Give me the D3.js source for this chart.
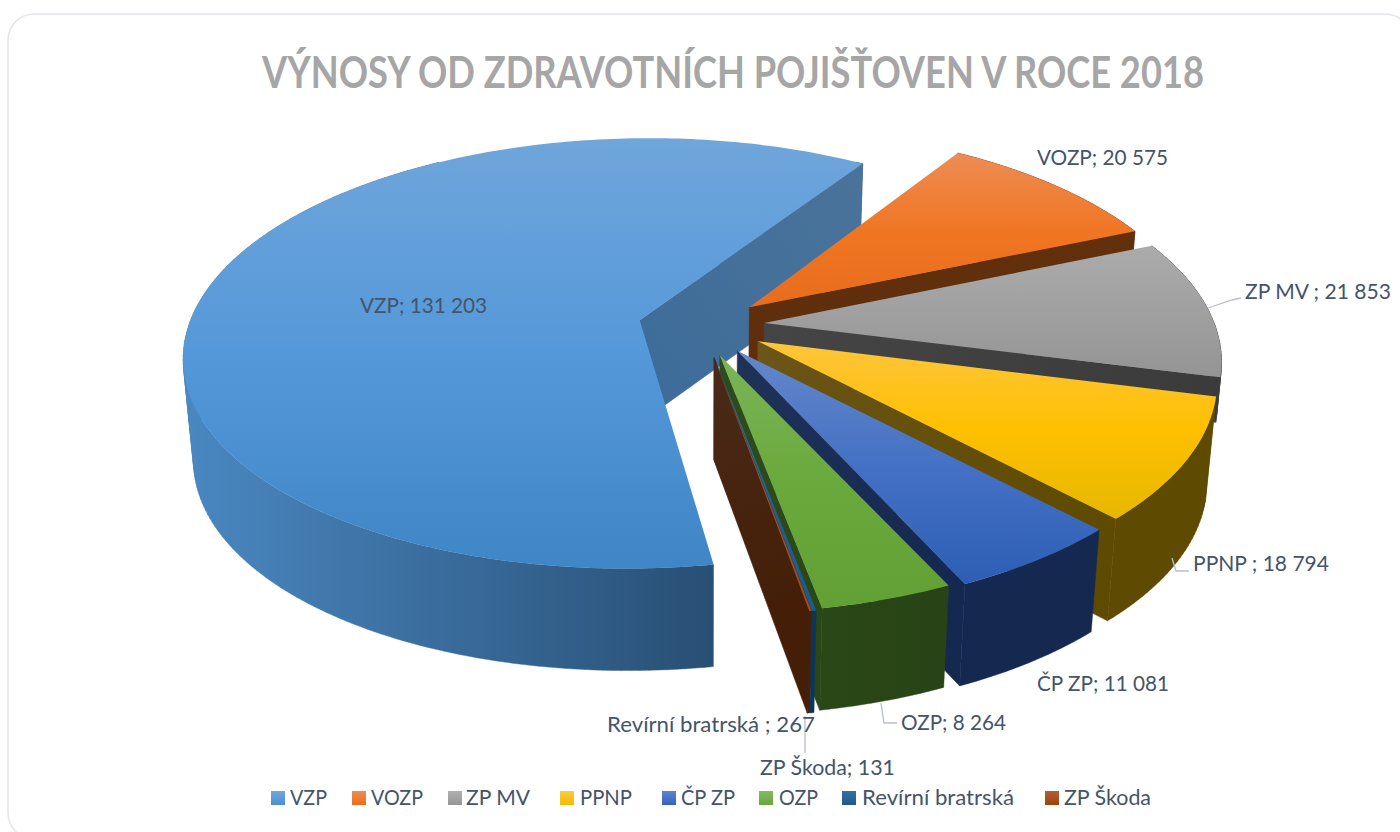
<!DOCTYPE html>
<html><head><meta charset="utf-8">
<script src="https://cdn.jsdelivr.net/npm/d3@7"></script>
<style>html,body{margin:0;padding:0;background:#fff;overflow:hidden}svg{display:block}text{font-family:Lato,"Open Sans",sans-serif}</style>
</head><body><svg id="c" width="1400" height="832"></svg>
<script>
const categories = ["VZP","VOZP","ZP MV","PPNP","ČP ZP","OZP","Revírní bratrská","ZP Škoda"];
const values = [131203,20575,21853,18794,11081,8264,267,131];
const valueLabels = ["131 203","20 575","21 853","18 794","11 081","8 264","267","131"];
const labelSeparators = ["; ","; "," ; "," ; ","; ","; "," ; ","; "];
const explosions = [0.148,0.132,0.132,0.132,0.132,0.132,0.132,0.132];
const chartTitle = "VÝNOSY OD ZDRAVOTNÍCH POJIŠŤOVEN V ROCE 2018";

// styles
const topColors = [["#6fa6db","#5598d9","#3f86c6"],["#ee8c55","#f07623","#e76d1e"],["#ababab","#a0a0a0","#949494"],["#fdc53c","#ffc000","#e6b700"],["#6487ca","#4471c4","#2d5eb5"],["#7bb558","#6aa93c","#62a035"],["#2e75b6","#1f6099","#1a5a90"],["#c0622a","#b0500f","#a84a0c"]];
const wallLeft = ["#4a88c2","#63300c","#3d3d3d","#5e4a00","#142850","#2a4716","#0d3557","#44200a"];
const wallRight = ["#1f3f5e","#63300c","#3d3d3d","#5e4a00","#142850","#284416","#0d3557","#44200a"];
const faceApex = ["#3f6d99","#5f2e0c","#454545","#6b5518","#203258","#2d4c1e","#0c3454","#4a2a1a"];
const faceRim = ["#4a739a","#63300c","#3b3b3b","#5e4a00","#142850","#2a4716","#0c3454","#441e06"];
const swatchColors = [["#6fa8dc","#4a8fcf"],["#f08c50","#ec6d1a"],["#b0b0b0","#969696"],["#ffca42","#f5bb00"],["#5f85cc","#3463bc"],["#86bb62","#66a63b"],["#3a6ea0","#1c5a90"],["#b0603a","#9c4308"]];
const labelColor="#44546a", leaderColor="#b4c0cf", titleColor="#a6a6a6";

// layout
const W=1400,H=832;
const proj={ox:704,oy:319.6,ax:450,ay:211,k:0.174,bottomScale:0.98,start:170.7};
const sliceNudge=[[0.5,3],[1,0.5],[0,1],[-2.5,2.5],[-1.5,1.5],[0,-2],[3,-1],[3,-1]];
const apexAdjust=[[0,4],[-1,4.5],[1,4],[5,4.5],[1.5,6],[-2,10.5],[-3,11],[-3,11]];
const sliceDepth=[102,102,45,102,102,102,102,102];
const labelPos=[[360,306],[1037,158],[1245,292],[1193,564],[1037,684],[901,723],[607,725],[760,768]];
const labelWidths=[127,131,146,136,132,105,208,135];
const leaders=[null,null,[[1208,308],[1232,300],[1241,298]],[[1172,558],[1176,571],[1189,571]],null,[[881,703],[884,723],[897,723]],null,[[805,716],[805,753]]];
const legendSwatchX=[271,352,448,560,662,759,842,1045];
const legendTextX=[290,371,466,580,681,779,862,1064];
const legendWidths=[37,52,64,52,54,39,152,87];

const svg=d3.select("#c");
const defs=svg.append("defs");
svg.append("rect").attr("x",8).attr("y",14).attr("width",1403).attr("height",825).attr("rx",26).attr("fill","#fff").attr("stroke","#e2e6ea").attr("stroke-width",1.5);

const rad=d=>d*Math.PI/180;
const arcs=d3.pie().sort(null).value(d=>d).startAngle(rad(proj.start)).endAngle(rad(proj.start)+2*Math.PI)(values);
function toScreen(X,Y,depth){
  const s=1/(1-proj.k*Y);
  let x=proj.ox+proj.ax*s*X, y=proj.oy+proj.ay*s*Y;
  if(depth){x=proj.ox+(x-proj.ox)*(1-(1-proj.bottomScale)*depth/102);y+=depth;}
  return [x,y];
}
const line=d3.line();
const slices=arcs.map((a,i)=>{
  const mid=(a.startAngle+a.endAngle)/2, e=explosions[i], nudge=sliceNudge[i], adj=apexAdjust[i], dep=sliceDepth[i];
  const ex=e*Math.sin(mid), ey=-e*Math.cos(mid);
  const shift=p=>[p[0]+nudge[0],p[1]+nudge[1]];
  const rim=(t,b)=>shift(toScreen(ex+Math.sin(t),ey-Math.cos(t),b?dep:0));
  const apex=b=>{const p=shift(toScreen(ex,ey,b?dep:0));return [p[0]+adj[0],p[1]+adj[1]];};
  const n=Math.max(2,Math.ceil((a.endAngle-a.startAngle)/rad(1)));
  const ts=d3.range(n+1).map(j=>a.startAngle+(a.endAngle-a.startAngle)*j/n);
  return {i,a,mid,rim,apex,ts};
});
slices.forEach(s=>{
  const i=s.i;
  const g=defs.append("linearGradient").attr("id","top"+i).attr("x1",0).attr("x2",0).attr("y1",0).attr("y2",1);
  topColors[i].forEach((c,j)=>g.append("stop").attr("offset",j/2).attr("stop-color",c));
  const w=defs.append("linearGradient").attr("id","wall"+i).attr("x1",0).attr("x2",1).attr("y1",0).attr("y2",0);
  w.append("stop").attr("offset",0).attr("stop-color",wallLeft[i]);
  w.append("stop").attr("offset",1).attr("stop-color",wallRight[i]);
  const sw=defs.append("linearGradient").attr("id","sw"+i).attr("x1",0).attr("x2",0).attr("y1",0).attr("y2",1);
  swatchColors[i].forEach((c,j)=>sw.append("stop").attr("offset",j).attr("stop-color",c));
});
const pie=svg.append("g");
function quad(pts){ // always the same winding, so overlapping strips stay filled
  const area=d3.polygonArea(pts);
  return line(area<0?pts.slice().reverse():pts)+"Z";
}
slices.forEach(s=>{
  const i=s.i,G=pie.append("g");
  const top=s.ts.map(t=>s.rim(t,false));
  const vis=s.ts.filter(t=>Math.cos(t)<0.85);
  if(vis.length>1){
    const d=d3.pairs(vis).map(([t0,t1])=>quad([s.rim(t0,false),s.rim(t1,false),s.rim(t1,true),s.rim(t0,true)])).join("");
    G.append("path").attr("d",d).attr("fill",`url(#wall${i})`).attr("stroke",`url(#wall${i})`).attr("stroke-width",0.4);
  }
  const P=s.apex(false),M=s.rim(s.mid,false);
  [s.a.startAngle,s.a.endAngle].forEach((t,k)=>{
    const Q=s.rim(t,false);
    const cross=(Q[0]-P[0])*(M[1]-P[1])-(Q[1]-P[1])*(M[0]-P[0]);
    const down=(Q[0]-P[0]);
    if(cross*down<0){
      const id=`face${i}_${k}`;
      const fg=defs.append("linearGradient").attr("id",id).attr("gradientUnits","userSpaceOnUse")
        .attr("x1",P[0]).attr("y1",P[1]).attr("x2",Q[0]).attr("y2",Q[1]);
      fg.append("stop").attr("offset",0).attr("stop-color",faceApex[i]);
      fg.append("stop").attr("offset",1).attr("stop-color",faceRim[i]);
      G.append("path").attr("d",line([P,Q,s.rim(t,true),s.apex(true)])+"Z").attr("fill",`url(#${id})`).attr("stroke",`url(#${id})`).attr("stroke-width",0.6);
    }
  });
  G.append("path").attr("d",line([P].concat(top))+"Z").attr("fill",`url(#top${i})`);
});

// title
svg.append("text").attr("x",262).attr("y",88).attr("font-size",43.5).attr("font-weight",700).attr("fill",titleColor)
  .attr("textLength",942).attr("lengthAdjust","spacingAndGlyphs").text(chartTitle);

// leaders
leaders.forEach(l=>{ if(l) svg.append("path").attr("d",line(l)).attr("fill","none").attr("stroke",leaderColor).attr("stroke-width",1.3);});

// data labels
categories.forEach((c,i)=>{
  svg.append("text").attr("x",labelPos[i][0]).attr("y",labelPos[i][1]).attr("dy","0.35em").attr("font-size",21).attr("fill",labelColor)
    .attr("textLength",labelWidths[i]).attr("lengthAdjust","spacingAndGlyphs")
    .text(c+labelSeparators[i]+valueLabels[i]);
});
// legend
categories.forEach((c,i)=>{
  svg.append("rect").attr("x",legendSwatchX[i]).attr("y",791).attr("width",14).attr("height",14).attr("fill",`url(#sw${i})`);
  svg.append("text").attr("x",legendTextX[i]).attr("y",798).attr("dy","0.35em").attr("font-size",21).attr("fill",labelColor)
    .attr("textLength",legendWidths[i]).attr("lengthAdjust","spacingAndGlyphs").text(c);
});
</script></body></html>
